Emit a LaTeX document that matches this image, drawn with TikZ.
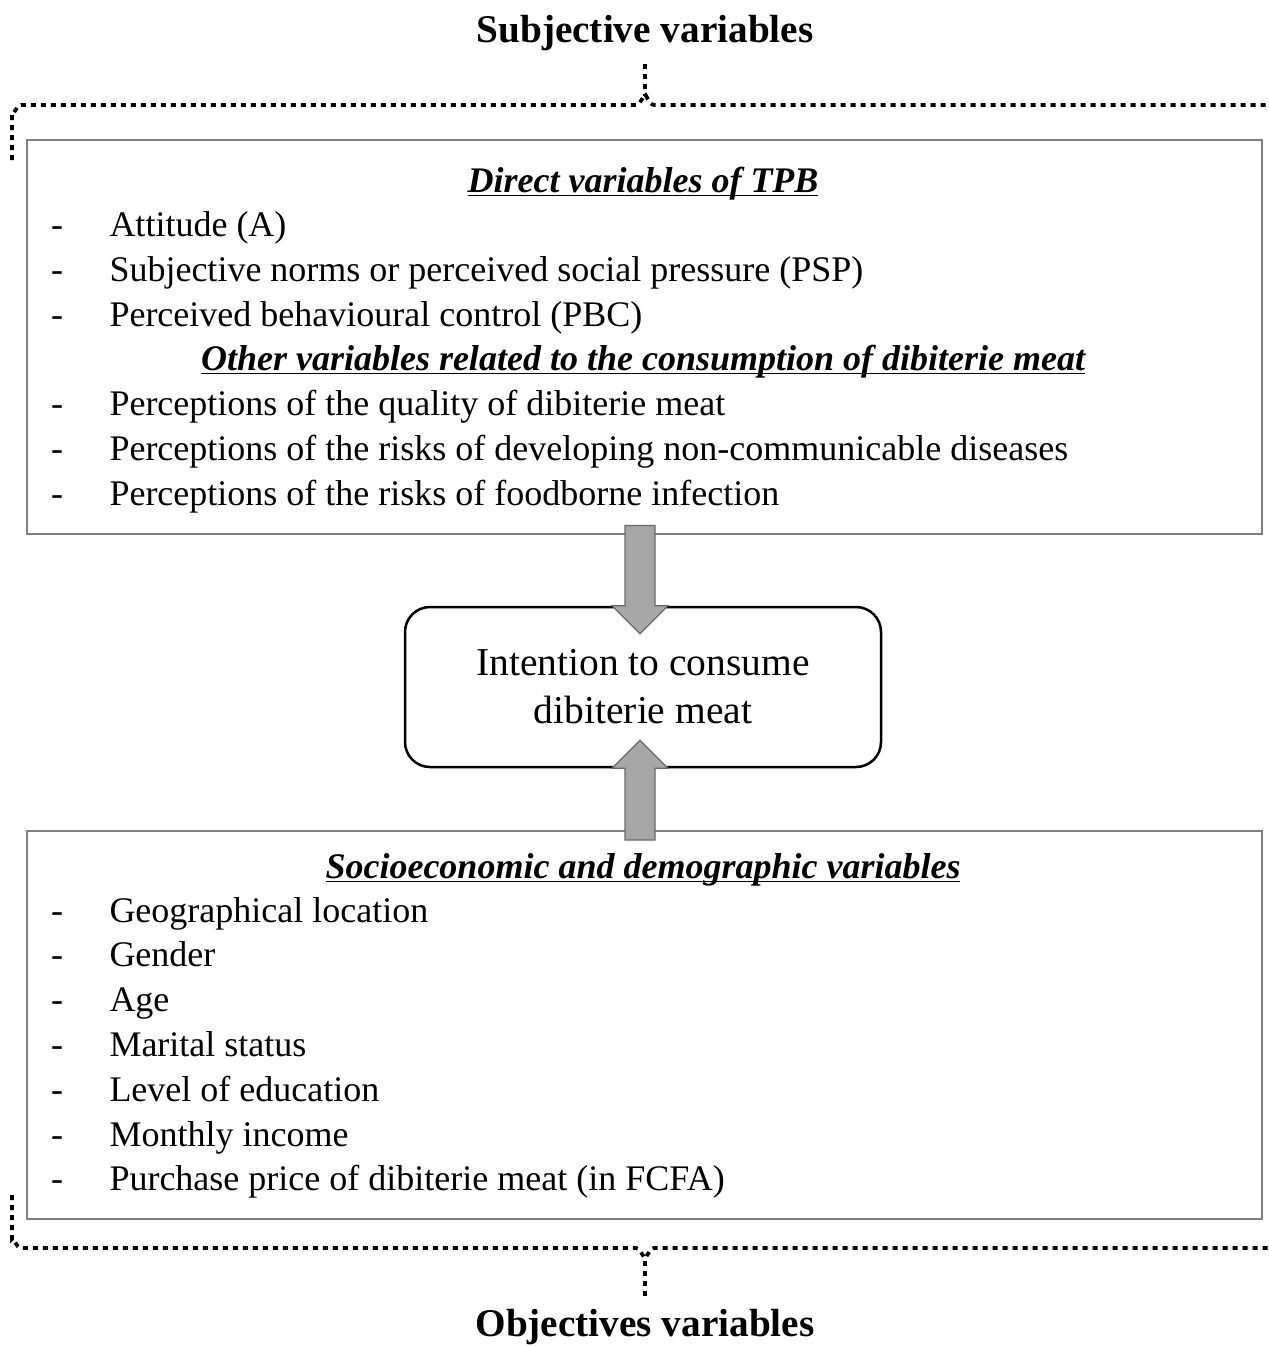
\documentclass[tikz,border=0pt]{standalone}
\usepackage{fontspec}
\setmainfont{Liberation Serif}
\usetikzlibrary{calc,positioning}
\definecolor{boxgray}{RGB}{128,128,128}
\definecolor{arrowgray}{RGB}{166,166,166}
\definecolor{arrowedge}{RGB}{105,105,105}
% tight underline for the headings
\newcommand{\hdline}[1]{\setbox0\hbox{#1}\rlap{\rule[-1.7pt]{\wd0}{0.6pt}}\box0}

\begin{document}
\begin{tikzpicture}[x=0.4pt,y=-0.4pt,
    every node/.style={inner sep=0pt, font=\fontsize{14.4}{17}\selectfont},
    varbox/.style={draw=boxgray, line width=0.6pt, anchor=north west},
    heading/.style={anchor=base, font=\fontsize{14.4}{17}\selectfont\bfseries\itshape},
    item/.style={anchor=base west},
    dashmark/.style={anchor=base},
    title/.style={font=\fontsize{15.7}{18}\selectfont\bfseries},
    bracket/.style={line width=1.5pt, dash pattern=on 2pt off 2pt},
    blockarrow/.style={draw=arrowedge, fill=arrowgray, line width=0.5pt}]
  \useasboundingbox (0,0) rectangle (1268,1346);

  % Titles
  \node[title] (subj) at (645,33) {Subjective variables};
  \node[title] (obj) at (645,1327) {Objectives variables};

  % Boxes
  \node[varbox, minimum width=494pt, minimum height=157.6pt] (subjbox) at (26,139) {};
  \node[varbox, minimum width=494pt, minimum height=155.2pt] (objbox) at (26,830) {};
  \node[draw, line width=1pt, rounded corners=10pt, minimum width=190.4pt,
        minimum height=64pt, align=center, font=\fontsize{15.8}{19.2}\selectfont]
        (intent) at (643,687) {Intention to consume\\dibiterie meat};

  % Subjective variables
  \node[heading] (hdirect) at (643,192) {\hdline{Direct variables of TPB}};
  \foreach \txt [count=\i from 0] in {{Attitude (A)},
      {Subjective norms or perceived social pressure (PSP)},
      {Perceived behavioural control (PBC)}}{
    \node[dashmark] (da\i) at (57,{236+45*\i}) {-};
    \node[item] (a\i) at (109,{236+45*\i}) {\txt};
  }
  \node[heading] (hother) at (643,370)
        {\hdline{Other variables related to the consumption of dibiterie meat}};
  \foreach \txt [count=\i from 0] in {{Perceptions of the quality of dibiterie meat},
      {Perceptions of the risks of developing non-communicable diseases},
      {Perceptions of the risks of foodborne infection}}{
    \node[dashmark] (db\i) at (57,{415+45*\i}) {-};
    \node[item] (b\i) at (109,{415+45*\i}) {\txt};
  }

  % Objective variables
  \node[heading] (hsocio) at (643,878) {\hdline{Socioeconomic and demographic variables}};
  \foreach \txt [count=\i from 0] in {{Geographical location}, {Gender}, {Age},
      {Marital status}, {Level of education}, {Monthly income},
      {Purchase price of dibiterie meat (in FCFA)}}{
    \node[dashmark] (dc\i) at (57,{922+44.8*\i}) {-};
    \node[item] (c\i) at (109,{922+44.8*\i}) {\txt};
  }

  % Block arrows
  \coordinate (dtop) at ($(intent.north |- subjbox.south)+(-3,-9)$);
  \coordinate (dtip) at ($(intent.north)+(-3,28)$);
  \draw[blockarrow] ($(dtop)+(-15,0)$) -- ($(dtop)+(15,0)$) -- ($(dtip)+(15,-28)$)
    -- ($(dtip)+(28,-28)$) -- (dtip) -- ($(dtip)+(-28,-28)$) -- ($(dtip)+(-15,-28)$) -- cycle;
  \coordinate (ubot) at ($(intent.south |- objbox.north)+(-3,10)$);
  \coordinate (utip) at ($(intent.south)+(-3,-28)$);
  \draw[blockarrow] ($(ubot)+(-15,0)$) -- ($(ubot)+(15,0)$) -- ($(utip)+(15,28)$)
    -- ($(utip)+(28,28)$) -- (utip) -- ($(utip)+(-28,28)$) -- ($(utip)+(-15,28)$) -- cycle;

  % Dotted brackets
  \coordinate (topknot) at (645,96);
  \draw[bracket, shorten <=5pt] (subj.south) -- (topknot);
  \draw[bracket] (12,160) -- (12,114) to[out=-90,in=180] (21,105) -- (636,105)
    to[out=0,in=90] (topknot) to[out=90,in=180] (654,105) -- (1268,105);
  \coordinate (botknot) at (645,1257);
  \draw[bracket, shorten <=5pt] (obj.north) -- (botknot);
  \draw[bracket] (12,1195) -- (12,1239) to[out=90,in=180] (21,1248) -- (636,1248)
    to[out=0,in=-90] (botknot) to[out=-90,in=180] (654,1248) -- (1268,1248);
\end{tikzpicture}
\end{document}
